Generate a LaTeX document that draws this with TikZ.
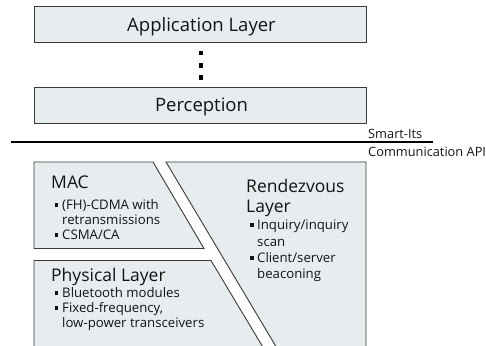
\documentclass[tikz,border=0pt]{standalone}
\usepackage{fontspec}
\setmainfont{Open Sans}
\definecolor{boxfill}{HTML}{E7ECEE}
\definecolor{boxline}{HTML}{3A3A3A}
\definecolor{txt}{HTML}{141414}
\begin{document}
\begin{tikzpicture}[x=1pt,y=-1pt,
  layerbox/.style={draw=boxline,fill=boxfill,line width=0.9pt},
  bigtxt/.style={anchor=base,inner sep=0pt,text=txt,font=\fontsize{18.5}{21}\selectfont},
  hdtxt/.style={anchor=base west,inner sep=0pt,text=txt,font=\fontsize{17.5}{20}\selectfont},
  smtxt/.style={anchor=base west,inner sep=0pt,text=txt,font=\fontsize{13.2}{15}\selectfont},
  apitxt/.style={anchor=base west,inner sep=0pt,text=txt,font=\fontsize{12.8}{14}\selectfont},
  bsq/.style={rectangle,fill=txt,draw=none,inner sep=0pt,minimum size=3.8pt},
  dotsq/.style={rectangle,fill=black,draw=none,inner sep=0pt,minimum size=4.3pt}]
\useasboundingbox (0,0) rectangle (486,345);
\clip (0,0) rectangle (486,345);
% top boxes
\node[layerbox,rectangle,minimum width=332pt,minimum height=36pt,inner sep=0pt] (app) at (200,24) {};
\node[bigtxt] (apptxt) at (201.5,31.7) {Application Layer};
\node[dotsq] (d1) at (201,53.3) {};
\node[dotsq] (d2) at (201,65.5) {};
\node[dotsq] (d3) at (201,77.5) {};
\node[layerbox,rectangle,minimum width=332pt,minimum height=36pt,inner sep=0pt] (perc) at (200,105) {};
\node[bigtxt] (perctxt) at (201.5,111) {Perception};
% API line
\coordinate (la) at (11,142);
\coordinate (lb) at (433,142);
\draw[line width=1.2pt,black] (la) -- (lb);
\node[apitxt] (smart) at (368,138) {Smart-Its};
\node[apitxt] (comm) at (368,156) {Communication API};
% lower layers
\draw[layerbox] (34,162) -- (153,162) -- (204,248.5) -- (34,248.5) -- cycle;
\draw[layerbox] (166,162) -- (366,162) -- (366,360) -- (284,360) -- cycle;
\draw[layerbox] (34,260.5) -- (211,260.5) -- (270.6,360) -- (34,360) -- cycle;
% MAC
\node[hdtxt] (mac) at (51,188) {MAC};
\node[bsq] (mb1) at (56.5,205) {};
\node[smtxt] (m1) at (62,209) {(FH)-CDMA with};
\node[smtxt] (m2) at (62,224) {retransmissions};
\node[bsq] (mb2) at (56.5,235) {};
\node[smtxt] (m3) at (62,239) {CSMA/CA};
% Rendezvous
\node[hdtxt] (rdv1) at (246,192) {Rendezvous};
\node[hdtxt] (rdv2) at (246,212) {Layer};
\node[bsq] (rb1) at (252,225) {};
\node[smtxt] (r1) at (257,229) {Inquiry/inquiry};
\node[smtxt] (r2) at (257,246) {scan};
\node[bsq] (rb2) at (252,258) {};
\node[smtxt] (r3) at (257,262) {Client/server};
\node[smtxt] (r4) at (257,278) {beaconing};
% Physical
\node[hdtxt] (phy) at (51,281) {Physical Layer};
\node[bsq] (pb1) at (56.5,293) {};
\node[smtxt] (p1) at (62,297) {Bluetooth modules};
\node[bsq] (pb2) at (56.5,308) {};
\node[smtxt] (p2) at (62,312) {Fixed-frequency,};
\node[smtxt] (p3) at (62,327) {low-power transceivers};
\end{tikzpicture}
\end{document}
